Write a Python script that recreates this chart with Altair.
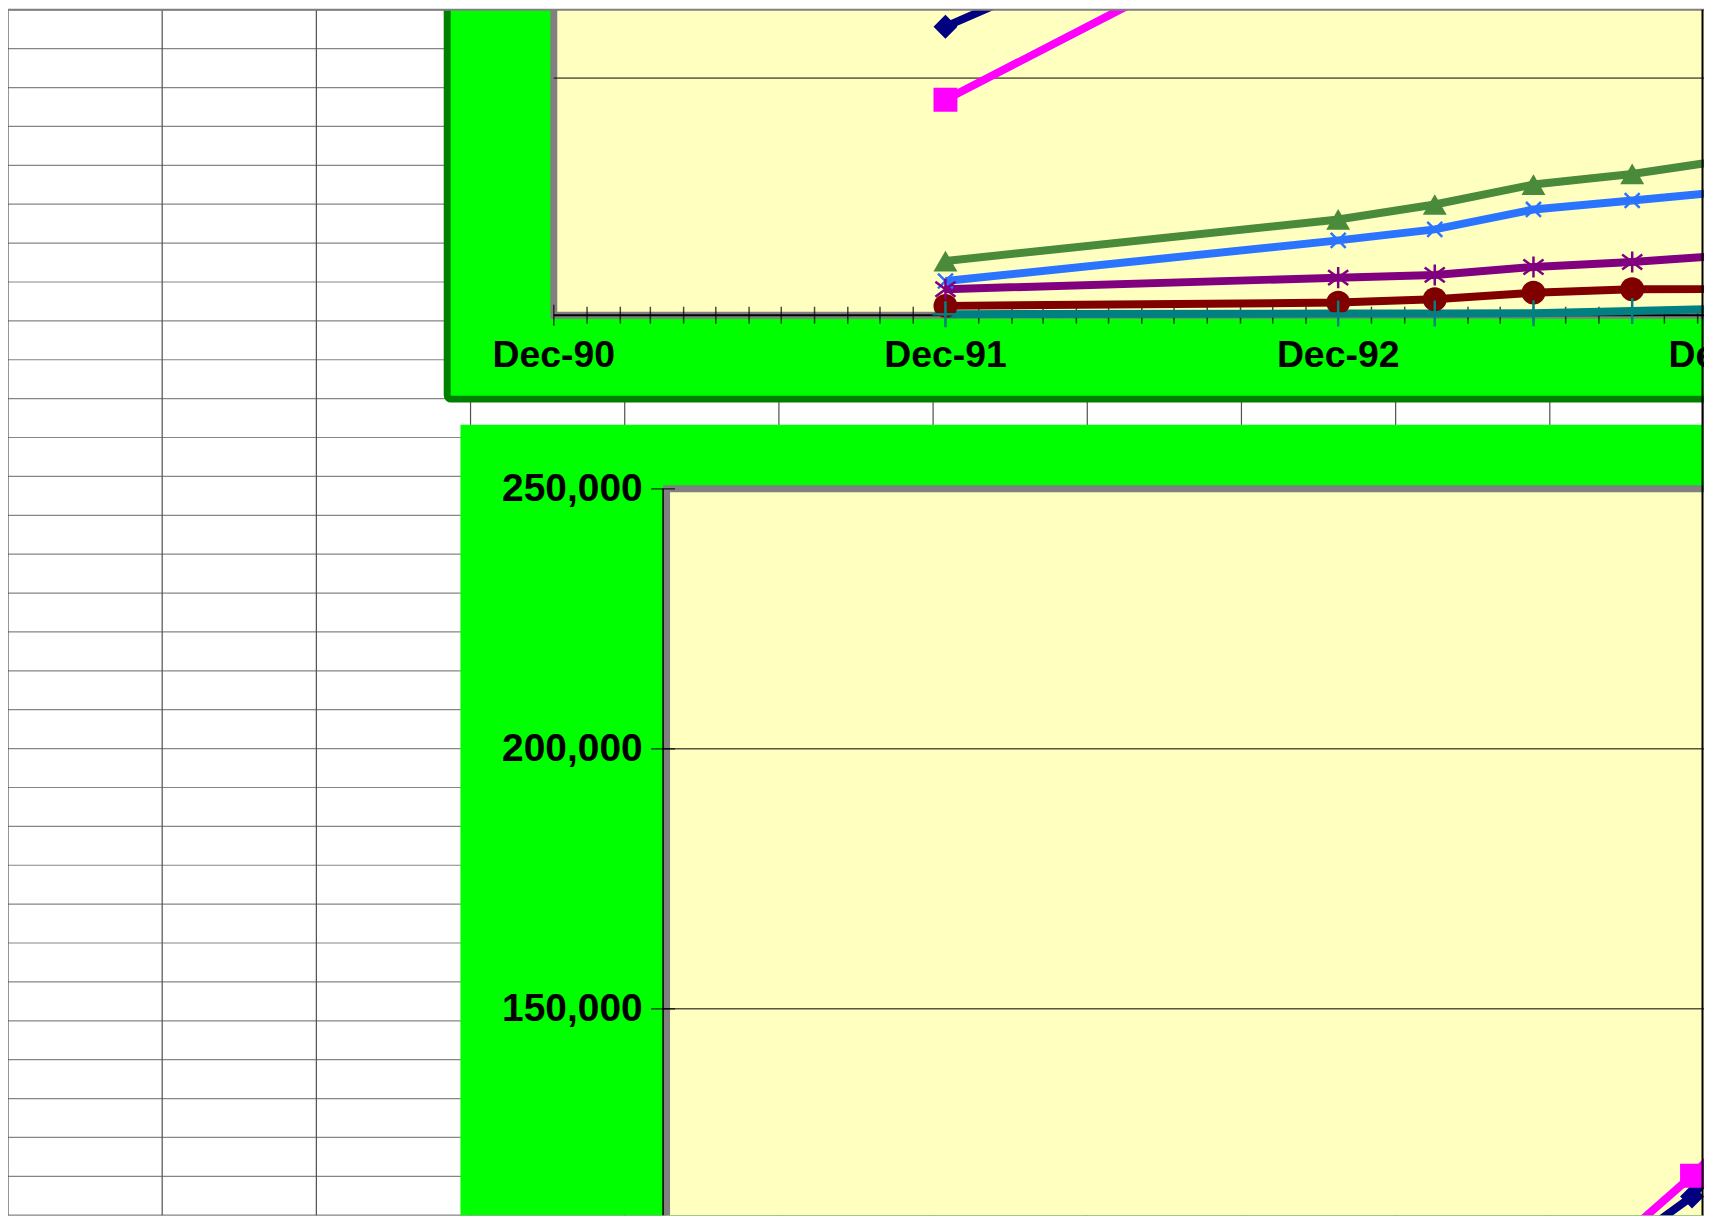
import altair as alt
import pandas as pd

# ---------------- data ----------------
DATES = ["1991-12-01", "1992-12-01", "1993-03-01", "1993-06-01",
         "1993-09-01", "1993-12-01", "1994-03-01"]
SERIES = ["Series 1", "Series 2", "Series 3", "Series 4",
          "Series 5", "Series 6", "Series 7"]
S1_NAVY = [60840, 96930, 98200, 99300, 100300, 113900, 136200]
S2_MAGENTA = [45420, 88160, 93000, 97500, 101400, 117900, 136500]
S3_GREEN = [11420, 20190, 23340, 27550, 29780, 32810, 34500]
S4_BLUE = [7210, 15770, 18090, 22290, 24180, 26120, 27500]
S5_PURPLE = [5470, 7910, 8480, 10160, 11210, 12680, 13500]
S6_RED = [1960, 2650, 3360, 4750, 5470, 5500, 5800]
S7_TEAL = [210, 340, 340, 420, 900, 1400, 1800]
VALUES = [S1_NAVY, S2_MAGENTA, S3_GREEN, S4_BLUE, S5_PURPLE, S6_RED, S7_TEAL]

X_LABEL_DATES = ["1990-12-01", "1991-12-01", "1992-12-01", "1993-12-01"]
X_LABELS = ["Dec-90", "Dec-91", "Dec-92", "Dec-93"]
MONTH_TICKS = [d.strftime("%Y-%m-%d") for d in
               pd.date_range("1990-12-01", "1993-12-01", freq="MS")]
TOP_GRID = [50000]
BOTTOM_Y_LABELS = [150000, 200000, 250000]
BOTTOM_GRID = [150000, 200000]
SHEET_COLS = 11
SHEET_ROWS = 31

# ---------------- styles ----------------
COLORS = ["#000080", "#FF00FF", "#4A8A3B", "#2B74FF", "#800080", "#800000", "#008080"]
FILLED = ["Series 1", "Series 2", "Series 3", "Series 6"]
FILLED_SHAPES = ["diamond", "square", "triangle-up", "circle"]
FILLED_SIZES = [576, 576, 190, 529]
STROKED = ["Series 4", "Series 5", "Series 7"]
STROKED_SHAPES = ["M-1,-1L1,1M-1,1L1,-1",
                  "M-0.95,-0.7L0.95,0.7M-0.95,0.7L0.95,-0.7M0,-1L0,1",
                  "M-1,0L1,0M0,-1L0,1"]
STROKED_SIZES = [225, 676, 400]
LINE_WIDTH = 8
FONT = "Liberation Sans"
GREEN = "#00FF00"
DARK_GREEN = "#008000"
PLOT_FILL = "#FFFFC0"
GRAY = "#808080"

# ---------------- layout (view pixels -> scale domains) ----------------
W, H = 1701, 1209
COL_W, ROW_H = W / SHEET_COLS, H / SHEET_ROWS
PX_PER_DAY = 1.0762
DAY_MS = 86400000.0


def ms(s):
    return pd.Timestamp(s, tz="UTC").value / 1e6


TOP_DEC90_X = 547.4
TOP_ZERO_Y = 306.3
TOP_PPU = 237.8 / 50000
TX_DOM = [ms("1990-12-01") - TOP_DEC90_X / PX_PER_DAY * DAY_MS,
          ms("1990-12-01") + (W - TOP_DEC90_X) / PX_PER_DAY * DAY_MS]
TY_DOM = [(TOP_ZERO_Y - H) / TOP_PPU, TOP_ZERO_Y / TOP_PPU]

BOT_DEC93_X = 1689.0
BOT_250K_Y = 480.5
BOT_PPU = 260.75 / 50000
BX_DOM = [ms("1993-12-01") - BOT_DEC93_X / PX_PER_DAY * DAY_MS,
          ms("1993-12-01") + (W - BOT_DEC93_X) / PX_PER_DAY * DAY_MS]
BY_DOM = [250000 - (H - BOT_250K_Y) / BOT_PPU, 250000 + BOT_250K_Y / BOT_PPU]

# frames in sheet units (columns, rows)
TOP_PANEL = (440.5 / COL_W, 12, -1, 390.5 / ROW_H)
BOT_PANEL = (453.8 / COL_W, 12, 416.3 / ROW_H, 32)
TOP_PLOT = (TOP_DEC90_X / COL_W, 12, -1, TOP_ZERO_Y / ROW_H)
BOT_PLOT = (660.5 / COL_W, 12, BOT_250K_Y / ROW_H, 32)
BOT_AXIS_PX = 657.0
BOT_AXIS_X = BOT_AXIS_PX / COL_W


def lin(dom, reverse=False):
    return alt.Scale(domain=list(dom), nice=False, zero=False, reverse=reverse)


def utc(dom):
    return alt.Scale(type="utc", domain=list(dom), nice=False)


SX = lin([0, SHEET_COLS])
SY = lin([0, SHEET_ROWS], reverse=True)
TX, TY = utc(TX_DOM), lin(TY_DOM)
BX, BY = utc(BX_DOM), lin(BY_DOM)

# ---------------- layers ----------------
rows_df = pd.DataFrame({"r": list(range(SHEET_ROWS + 1)), "a": 0, "b": SHEET_COLS})
rows_layer = alt.Chart(rows_df).mark_rule(color="#858585", strokeWidth=1.2).encode(
    x=alt.X("a:Q", scale=SX, axis=None), x2="b:Q",
    y=alt.Y("r:Q", scale=SY, axis=None))

cols_df = pd.DataFrame({"c": list(range(SHEET_COLS + 1)), "a": 0, "b": SHEET_ROWS})
cols_layer = alt.Chart(cols_df).mark_rule(color="#505050", strokeWidth=1.2).encode(
    x=alt.X("c:Q", scale=SX, axis=None),
    y=alt.Y("a:Q", scale=SY, axis=None), y2="b:Q")


def frame(box, **style):
    df = pd.DataFrame([{"x0": box[0], "x1": box[1], "y0": box[2], "y1": box[3]}])
    return alt.Chart(df).mark_rect(clip=True, **style).encode(
        x=alt.X("x0:Q", scale=SX, axis=None), x2="x1:Q",
        y=alt.Y("y0:Q", scale=SY, axis=None), y2="y1:Q")


top_panel = frame(TOP_PANEL, fill=GREEN, stroke=DARK_GREEN, strokeWidth=7, cornerRadius=4)
bot_panel = frame(BOT_PANEL, fill=GREEN)
top_plot = frame(TOP_PLOT, fill=PLOT_FILL, stroke=GRAY, strokeWidth=7)
bot_plot = frame(BOT_PLOT, fill=PLOT_FILL, stroke=GRAY, strokeWidth=7)

tg_df = pd.DataFrame({"v": TOP_GRID, "a": TOP_PLOT[0], "b": 12})
top_grid = alt.Chart(tg_df).mark_rule(color="black", strokeWidth=1, clip=True).encode(
    x=alt.X("a:Q", scale=SX, axis=None), x2="b:Q",
    y=alt.Y("v:Q", scale=TY, axis=None))

bg_df = pd.DataFrame({"v": BOTTOM_GRID, "a": BOT_AXIS_X, "b": 12})
bot_grid = alt.Chart(bg_df).mark_rule(color="black", strokeWidth=1, clip=True).encode(
    x=alt.X("a:Q", scale=SX, axis=None), x2="b:Q",
    y=alt.Y("v:Q", scale=BY, axis=None))

ta_df = pd.DataFrame({"v": [0], "a": TOP_PLOT[0], "b": 12})
top_axis_line = alt.Chart(ta_df).mark_rule(color="black", strokeWidth=2, clip=True).encode(
    x=alt.X("a:Q", scale=SX, axis=None), x2="b:Q",
    y=alt.Y("v:Q", scale=TY, axis=None))

ba_df = pd.DataFrame({"x": [BOT_AXIS_X], "v0": [250000], "v1": [0]})
bot_axis_line = alt.Chart(ba_df).mark_rule(color="black", strokeWidth=1.5, clip=True).encode(
    x=alt.X("x:Q", scale=SX, axis=None),
    y=alt.Y("v0:Q", scale=BY, axis=None), y2="v1:Q")

tk_df = pd.DataFrame({"d": MONTH_TICKS, "v": 0,
                      "k": ["major" if m.endswith("-12-01") else "minor" for m in MONTH_TICKS]})
top_ticks = alt.Chart(tk_df).mark_tick(orient="vertical", color="black", thickness=1.5,
                                       clip=True).encode(
    x=alt.X("d:T", scale=TX, axis=None),
    y=alt.Y("v:Q", scale=TY, axis=None),
    size=alt.Size("k:O", scale=alt.Scale(domain=["major", "minor"], range=[21, 17]),
                  legend=None))

xl_df = pd.DataFrame({"d": X_LABEL_DATES, "t": X_LABELS, "v": 0})
top_labels = alt.Chart(xl_df).mark_text(
    font=FONT, fontSize=37.5, fontWeight="bold", color="black",
    align="center", baseline="alphabetic", dy=52.4).encode(
    x=alt.X("d:T", scale=TX, axis=None),
    y=alt.Y("v:Q", scale=TY, axis=None),
    text="t:N")

bt_df = pd.DataFrame({"v": BOTTOM_Y_LABELS, "x": BOT_AXIS_X})
bot_ticks = alt.Chart(bt_df).mark_tick(orient="horizontal", color="black", thickness=1.5,
                                       size=24, clip=True).encode(
    x=alt.X("x:Q", scale=SX, axis=None),
    y=alt.Y("v:Q", scale=BY, axis=alt.Axis(
        values=BOTTOM_Y_LABELS, format=",d", orient="left", offset=-BOT_AXIS_PX,
        labelPadding=21, ticks=False, tickSize=0, domain=False, grid=False, title=None,
        zindex=5, labelFont=FONT, labelFontSize=39, labelFontWeight="bold",
        labelColor="black", labelFlush=False, labelOverlap=False)))

long_rows = []
for name, vals in zip(SERIES, VALUES):
    for d, v in zip(DATES, vals):
        long_rows.append({"d": d, "s": name, "v": v})
long_df = pd.DataFrame(long_rows)
COLOR = alt.Color("s:N", scale=alt.Scale(domain=SERIES, range=COLORS), legend=None)


def series_layers(X, Y):
    base = alt.Chart(long_df)
    xe = alt.X("d:T", scale=X, axis=None)
    ye = alt.Y("v:Q", scale=Y, axis=None)
    lines = base.mark_line(strokeWidth=LINE_WIDTH, clip=True).encode(x=xe, y=ye, color=COLOR)
    filled = base.transform_filter(alt.FieldOneOfPredicate(field="s", oneOf=FILLED)).mark_point(
        filled=True, opacity=1, clip=True).encode(
        x=xe, y=ye, color=COLOR,
        shape=alt.Shape("s:N", scale=alt.Scale(domain=FILLED, range=FILLED_SHAPES), legend=None),
        size=alt.Size("s:O", scale=alt.Scale(domain=FILLED, range=FILLED_SIZES), legend=None))
    stroked = base.transform_filter(alt.FieldOneOfPredicate(field="s", oneOf=STROKED)).mark_point(
        filled=False, opacity=1, strokeWidth=2.5, clip=True).encode(
        x=xe, y=ye, color=COLOR,
        shape=alt.Shape("s:N", scale=alt.Scale(domain=STROKED, range=STROKED_SHAPES), legend=None),
        size=alt.Size("s:O", scale=alt.Scale(domain=STROKED, range=STROKED_SIZES), legend=None))
    return [lines, filled, stroked]


edge_df = pd.DataFrame({"r": [0], "a": 0, "b": SHEET_COLS})
top_edge = alt.Chart(edge_df).mark_rule(color=GRAY, strokeWidth=2).encode(
    x=alt.X("a:Q", scale=SX, axis=None), x2="b:Q",
    y=alt.Y("r:Q", scale=SY, axis=None))

re_df = pd.DataFrame({"c": [SHEET_COLS - 1.5 / COL_W], "a": 0, "b": SHEET_ROWS})
right_edge = alt.Chart(re_df).mark_rule(color="black", strokeWidth=2).encode(
    x=alt.X("c:Q", scale=SX, axis=None),
    y=alt.Y("a:Q", scale=SY, axis=None), y2="b:Q")

layers = ([rows_layer, cols_layer, top_panel, bot_panel, top_plot, bot_plot,
           top_grid, bot_grid, top_axis_line, bot_axis_line, top_ticks, bot_ticks,
           top_labels]
          + series_layers(TX, TY) + series_layers(BX, BY) + [top_edge, right_edge])

chart = alt.layer(*layers).resolve_scale(
    x="independent", y="independent", color="independent",
    shape="independent", size="independent"
).properties(
    width=W, height=H, padding=0,
    autosize=alt.AutoSizeParams(type="none"),
    background="white"
).configure_view(stroke=None)

chart.save("out.html", embed_options={"renderer": "svg", "actions": False})
